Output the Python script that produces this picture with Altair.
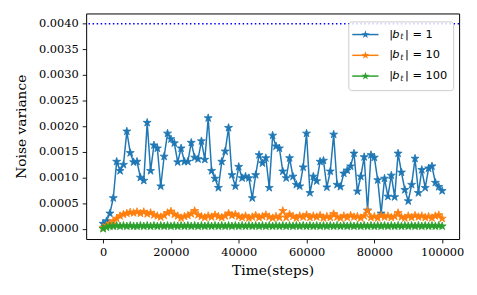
import altair as alt
import pandas as pd

steps = list(range(0, 100001, 1000))

blue = [
    0.00010, 0.00015, 0.00030, 0.00060, 0.00131, 0.00113, 0.00125, 0.00190, 0.00148, 0.00130,
    0.00131, 0.00100, 0.00094, 0.00207, 0.00113, 0.00163, 0.00157, 0.00083, 0.00141, 0.00186,
    0.00175, 0.00167, 0.00130, 0.00157, 0.00131, 0.00131, 0.00168, 0.00139, 0.00136, 0.00171,
    0.00135, 0.00216, 0.00113, 0.00098, 0.00080, 0.00131, 0.00151, 0.00197, 0.00105, 0.00083,
    0.00121, 0.00099, 0.00102, 0.00099, 0.00060, 0.00105, 0.00144, 0.00128, 0.00138, 0.00080,
    0.00182, 0.00161, 0.00157, 0.00112, 0.00099, 0.00138, 0.00102, 0.00086, 0.00083, 0.00120,
    0.00186, 0.00070, 0.00102, 0.00093, 0.00131, 0.00133, 0.00081, 0.00112, 0.00184, 0.00086,
    0.00082, 0.00108, 0.00114, 0.00122, 0.00147, 0.00073, 0.00102, 0.00140, 0.00036, 0.00144,
    0.00139, 0.00095, 0.00030, 0.00098, 0.00063, 0.00104, 0.00062, 0.00147, 0.00110, 0.00076,
    0.00054, 0.00086, 0.00137, 0.00070, 0.00115, 0.00080, 0.00118, 0.00122, 0.00090, 0.00082,
    0.00074,
]

orange = [
    0.00002, 0.00006, 0.00010, 0.00015, 0.00020, 0.00025, 0.00028, 0.00030, 0.00032, 0.00031,
    0.00033, 0.00030, 0.00033, 0.00029, 0.00031, 0.00027, 0.00025, 0.00023, 0.00026, 0.00031,
    0.00034, 0.00028, 0.00025, 0.00021, 0.00024, 0.00026, 0.00029, 0.00035, 0.00027, 0.00024,
    0.00022, 0.00025, 0.00023, 0.00027, 0.00024, 0.00022, 0.00025, 0.00030, 0.00026, 0.00028,
    0.00024, 0.00022, 0.00025, 0.00021, 0.00023, 0.00026, 0.00022, 0.00024, 0.00027, 0.00023,
    0.00021, 0.00024, 0.00022, 0.00035, 0.00022, 0.00028, 0.00024, 0.00021, 0.00025, 0.00023,
    0.00027, 0.00022, 0.00025, 0.00023, 0.00026, 0.00021, 0.00024, 0.00022, 0.00029, 0.00023,
    0.00021, 0.00025, 0.00022, 0.00026, 0.00023, 0.00024, 0.00021, 0.00025, 0.00035, 0.00022,
    0.00024, 0.00021, 0.00026, 0.00023, 0.00025, 0.00022, 0.00024, 0.00031, 0.00023, 0.00021,
    0.00025, 0.00022, 0.00026, 0.00023, 0.00025, 0.00022, 0.00024, 0.00021, 0.00025, 0.00027,
    0.00020,
]

green = [
    0.00000, 0.00003, 0.00005, 0.00005, 0.00006, 0.00005, 0.00006, 0.00005, 0.00006, 0.00005,
] + [0.00005, 0.00006] * 45 + [0.00005]

labels = ["1", "10", "100"]
colors = ["#1f77b4", "#ff7f0e", "#2ca02c"]
series = [blue, orange, green]
y_ticks = [0.0, 0.0005, 0.0010, 0.0015, 0.0020, 0.0025, 0.0030, 0.0035, 0.0040]
x_ticks = [0, 20000, 40000, 60000, 80000, 100000]
ref_level = 0.004

W, H = 377, 228
SERIF = "DejaVu Serif"
STAR = ("M0,-1L0.2245,-0.309L0.951,-0.309L0.363,0.118L0.588,0.809L0,0.382"
        "L-0.588,0.809L-0.363,0.118L-0.951,-0.309L-0.2245,-0.309Z")
MSIZE = 72

rows = []
for k, (vals, lab) in enumerate(zip(series, labels)):
    for s, v in zip(steps, vals):
        rows.append({"step": s, "value": v, "series": "s" + str(k), "lab": lab})
df = pd.DataFrame(rows)
keys = ["s0", "s1", "s2"]

xscale = alt.Scale(domain=[-5000, 105000], nice=False, zero=False)
yscale = alt.Scale(domain=[-0.0002, 0.0042], nice=False, zero=False)
cscale = alt.Scale(domain=keys, range=colors)

xaxis = alt.Axis(values=x_ticks, format="d", title="Time(steps)", grid=False,
                 orient="bottom", labelOverlap=False, titleFontWeight=400)
yaxis = alt.Axis(values=y_ticks, format=".4f", title="Noise variance", grid=False,
                 orient="left", labelOverlap=False, titleFontWeight=400)
xenc = alt.X("step:Q", scale=xscale, axis=xaxis)
yenc = alt.Y("value:Q", scale=yscale, axis=yaxis)

hline = alt.Chart(pd.DataFrame({"value": [ref_level]})).mark_rule(
    color="#0000ff", strokeDash=[1.5, 2.6], strokeWidth=1.5
).encode(y=yenc)

layers = [hline]
for k, c in zip(keys, colors):
    sub = alt.Chart(df).transform_filter(alt.datum.series == k)
    layers.append(sub.mark_line(strokeWidth=1.5, color=c).encode(x=xenc, y=yenc))
    layers.append(sub.mark_point(shape=STAR, size=MSIZE, filled=True, opacity=1, color=c,
                                 stroke=c, strokeWidth=0.8).encode(x=xenc, y=yenc))

# legend (decoration, pixel positions inside the plot area)
leg = pd.DataFrame({"series": keys, "lab": labels, "row": [0, 1, 2]})
lbase = alt.Chart(leg).transform_calculate(ry="21.3 + 21 * datum.row")
box = alt.Chart(pd.DataFrame({"a": [0]})).mark_rect(
    fill="white", fillOpacity=0.8, stroke="#cccccc", strokeWidth=1, cornerRadius=3
).encode(x=alt.value(265.5), x2=alt.value(371.5), y=alt.value(8.5), y2=alt.value(78))
ly = alt.Y("ry:Q", scale=None)
lcol = alt.Color("series:N", scale=cscale, legend=None)
lrule = lbase.mark_rule(strokeWidth=1.5).encode(
    x=alt.value(269), x2=alt.value(295.5), y=ly, color=lcol)
lpt = lbase.mark_point(shape=STAR, size=MSIZE, filled=True, opacity=1, strokeWidth=0.8).encode(
    x=alt.value(282.3), y=ly, color=lcol)
t1 = lbase.mark_text(text="|", align="left", baseline="middle", font="DejaVu Sans",
                     fontSize=11.5, color="black").encode(x=alt.value(306.3), y=ly)
t2 = lbase.mark_text(text="b", align="left", baseline="middle", font="DejaVu Sans",
                     fontStyle="italic", fontSize=11.5, color="black").encode(x=alt.value(309.3), y=ly)
t3 = lbase.mark_text(text="t", align="left", baseline="middle", font="DejaVu Sans",
                     fontStyle="italic", fontSize=8, color="black", dy=3).encode(x=alt.value(317.6), y=ly)
t4 = lbase.transform_calculate(txt="'| = ' + datum.lab").mark_text(
    align="left", baseline="middle", font="DejaVu Sans", fontSize=11.5, color="black"
).encode(x=alt.value(322.3), y=ly, text="txt:N")

layers += [box, lrule, lpt, t1, t2, t3, t4]

chart = alt.layer(*layers).properties(
    width=W, height=H,
    autosize=alt.AutoSizeParams(type="none"),
    padding={"left": 79, "top": 4, "right": 10, "bottom": 50},
    background="white",
).configure_view(
    stroke="black", strokeWidth=1
).configure_axis(
    domain=False,
    labelFont=SERIF, labelFontSize=11.5, labelColor="black",
    titleFont=SERIF, titleFontSize=13.9, titleFontWeight=400, titleColor="black",
    tickColor="black", tickSize=4, tickWidth=0.9, labelPadding=4,
).configure_axisY(titlePadding=10).configure_axisX(titlePadding=5)

chart.save("out.html", embed_options={"renderer": "svg", "actions": False})
